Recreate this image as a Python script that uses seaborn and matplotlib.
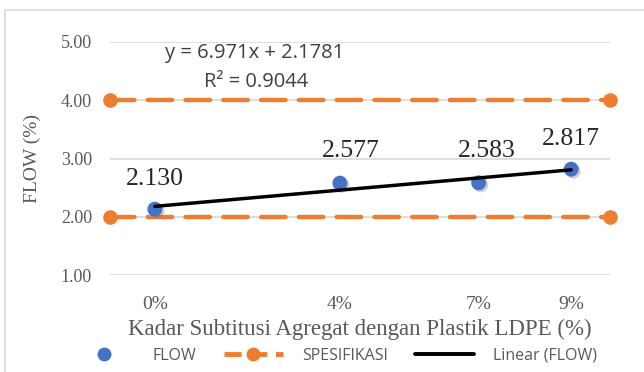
import numpy as np
import pandas as pd
import matplotlib
matplotlib.use("Agg")
import matplotlib.pyplot as plt
import matplotlib.patheffects as pe
from matplotlib.lines import Line2D
from matplotlib.patches import Rectangle
import seaborn as sns

# ---- data ----
kadar = [0.00, 0.04, 0.07, 0.09]
flow = [2.130, 2.577, 2.583, 2.817]
flow_labels = ["2.130", "2.577", "2.583", "2.817"]
tick_labels = ["0%", "4%", "7%", "9%"]
spec_x = [-0.0097, 0.0984]
spec_low = [2.0, 2.0]
spec_high = [4.0, 4.0]
y_ticks = [1.00, 2.00, 3.00, 4.00, 5.00]
equation_text = "y = 6.971x + 2.1781"
r2_text = "R² = 0.9044"

BLUE = "#4472C4"
ORANGE = "#ED7D31"
GRAY = "#595959"

sns.set_theme(style="white")
plt.rcParams['font.family'] = ['Liberation Serif', 'DejaVu Serif']

fig = plt.figure(figsize=(6.44, 3.72), dpi=100)
ax = fig.add_axes([110/644, 1-275/372, 500/644, 233/372])

fig.patches.append(Rectangle((5/644, -0.01), 1.0, 1-10/372+0.01, transform=fig.transFigure,
                             fill=False, edgecolor="#d9d9d9", linewidth=1.2))

ax.set_xlim(spec_x[0], spec_x[1])
ax.set_ylim(1.0, 5.0)
ax.set_yticks(y_ticks)
ax.set_yticklabels([f"{v:.2f}" for v in y_ticks])
ax.set_xticks(kadar)
ax.set_xticklabels(tick_labels)
ax.grid(axis="y", color="#d9d9d9", linewidth=1.2)
ax.grid(axis="x", visible=False)
ax.set_axisbelow(True)
for s in ax.spines.values():
    s.set_visible(False)
ax.tick_params(axis="both", length=0, labelsize=13, labelcolor=GRAY)
ax.tick_params(axis="x", pad=15, labelsize=14)
ax.tick_params(axis="y", pad=13)

# spec lines
for sy in (spec_low, spec_high):
    spec_df = pd.DataFrame({"x": spec_x, "y": sy})
    sns.lineplot(data=spec_df, x="x", y="y", ax=ax, color=ORANGE, linewidth=3.2,
                 dashes=False, marker="o", markersize=10.5, markeredgewidth=0,
                 clip_on=False, legend=False, zorder=2)
for l in ax.lines:
    l.set_dashes([5.5, 3.0])
    l.set_dash_capstyle("round")

# trendline
slope, intercept = np.polyfit(kadar, flow, 1)
tx = np.array([kadar[0], kadar[-1]])
trend_df = pd.DataFrame({"x": tx, "y": slope * tx + intercept})

# points
df = pd.DataFrame({"x": kadar, "y": flow})
sns.scatterplot(data=df, x="x", y="y", ax=ax, color=BLUE, s=115, linewidth=0,
                zorder=3, legend=False)
ax.collections[-1].set_path_effects([pe.SimplePatchShadow(offset=(1.5, -1.5), shadow_rgbFace="#777777", alpha=0.35),
                                     pe.Normal()])
sns.lineplot(data=trend_df, x="x", y="y", ax=ax, color="black", linewidth=2.5,
             legend=False, zorder=4)

ax.set_xlabel("Kadar Subtitusi Agregat dengan Plastik LDPE (%)", fontsize=16.5, color=GRAY, labelpad=4)
ax.set_ylabel("FLOW (%)", fontsize=14, color=GRAY, labelpad=14)

label_offsets = [(0, 22), (8, 23), (6, 23), (0, 22)]
for x, y, t, off in zip(kadar, flow, flow_labels, label_offsets):
    ax.annotate(t, (x, y), xytext=off, textcoords="offset points", ha="center", va="center",
                fontsize=18.5, color="#262626")

eq_family = ["Open Sans", "DejaVu Sans"]
ax.text(255/644, 1-53/372, equation_text, transform=fig.transFigure,
        ha="center", va="center", fontsize=14.5, color="#404040", family=eq_family)
ax.text(256/644, 1-82/372, r2_text, transform=fig.transFigure,
        ha="center", va="center", fontsize=14.5, color="#404040", family=eq_family)

handles = [
    Line2D([], [], linestyle="none", marker="o", color=BLUE, markersize=10, markeredgewidth=0),
    Line2D([], [], color=ORANGE, linewidth=3.5, dashes=[3.5, 1.8], marker="o", markersize=10,
           markeredgewidth=0, markevery=[1]),
    Line2D([], [], color="black", linewidth=2.8),
]
fig.legend(handles, ["FLOW", "SPESIFIKASI", "Linear (FLOW)"], loc="center",
           bbox_to_anchor=(336/644, 1-356/372), ncol=3, frameon=False,
           prop={"family": eq_family, "size": 11.5}, labelcolor=GRAY,
           handlelength=3.7, columnspacing=1.7, handletextpad=1.2)

fig.savefig("out.png", dpi=100)
